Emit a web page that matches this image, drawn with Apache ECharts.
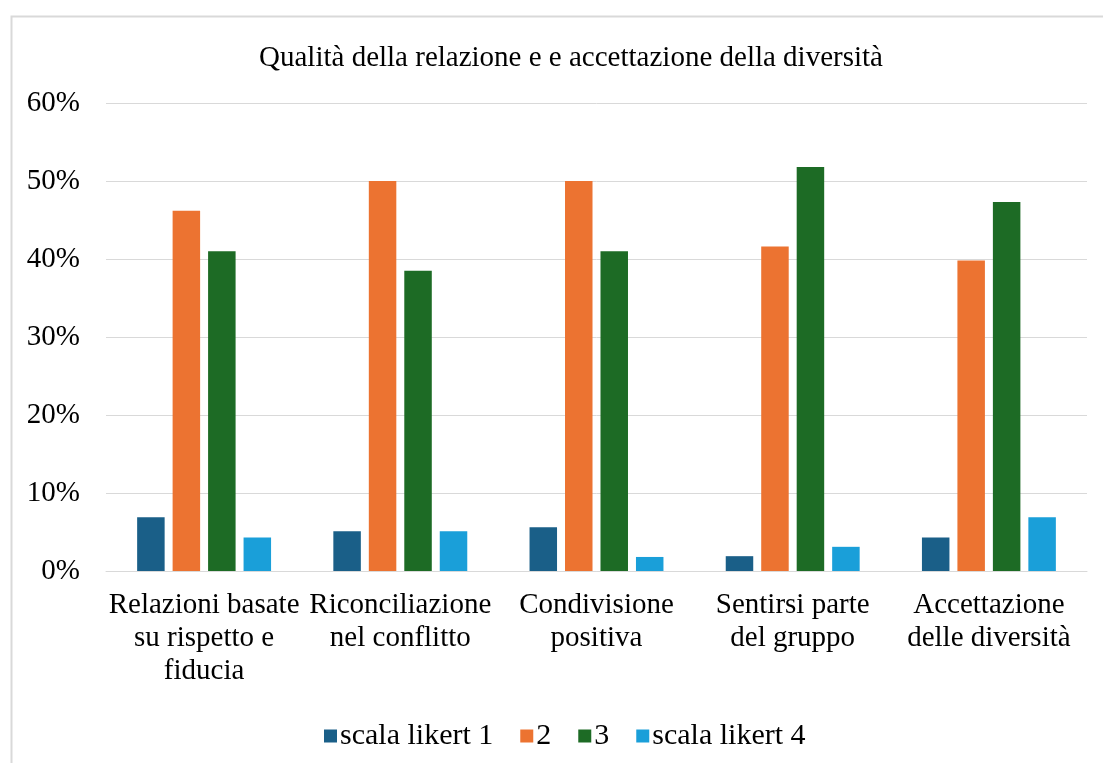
<!DOCTYPE html>
<html>
<head>
<meta charset="utf-8">
<script src="https://cdn.jsdelivr.net/npm/echarts@6/dist/echarts.min.js"></script>
<style>
html,body{margin:0;padding:0;background:#fff;}
#c{width:1103px;height:763px;}
</style>
</head>
<body>
<div id="c"></div>
<script>
const title = "Qualità della relazione e e accettazione della diversità";
const categories = [
  "Relazioni basate\nsu rispetto e\nfiducia",
  "Riconciliazione\nnel conflitto",
  "Condivisione\npositiva",
  "Sentirsi parte\ndel gruppo",
  "Accettazione\ndelle diversità"
];
const seriesNames = ["scala likert 1", "2", "3", "scala likert 4"];
const likert1 = [6.9, 5.1, 5.6, 1.9, 4.3];
const likert2 = [46.2, 50.0, 50.0, 41.6, 39.8];
const likert3 = [41.0, 38.5, 41.0, 51.8, 47.3];
const likert4 = [4.3, 5.1, 1.8, 3.1, 6.9];
const yTicks = [0, 10, 20, 30, 40, 50, 60];
const colors = ["#1a5f88", "#ec7331", "#1d6b25", "#1a9fd9"];

const FONT = "'Liberation Serif', 'Times New Roman', serif";
const chart = echarts.init(document.getElementById('c'), null, {renderer: 'canvas'});
const values = [likert1, likert2, likert3, likert4];
chart.setOption({
  animation: false,
  backgroundColor: '#fff',
  color: colors,
  graphic: [{
    type: 'rect', left: 9, top: 14, z: -1,
    shape: {width: 1200, height: 800},
    style: {fill: 'none', stroke: '#d9d9d9', lineWidth: 2}
  }],
  title: {
    text: title, left: 566, top: 39, textAlign: 'center',
    textStyle: {fontFamily: FONT, fontSize: 29, fontWeight: 'normal', color: '#000'}
  },
  legend: {
    left: 319, top: 716, itemWidth: 13, itemHeight: 13, itemGap: 27,
    icon: 'rect',
    data: seriesNames,
    textStyle: {fontFamily: FONT, fontSize: 30, color: '#000', padding: [0, 0, 0, -2]}
  },
  grid: {left: 106, right: 16, top: 103, bottom: 192, containLabel: false},
  xAxis: {
    type: 'category', data: categories,
    axisLine: {lineStyle: {color: '#d9d9d9', width: 1}},
    axisTick: {show: false},
    axisLabel: {fontFamily: FONT, fontSize: 29, color: '#000', lineHeight: 33, margin: 18, interval: 0}
  },
  yAxis: {
    type: 'value', min: yTicks[0], max: yTicks[yTicks.length - 1], interval: 10,
    axisLine: {show: false}, axisTick: {show: false},
    splitLine: {lineStyle: {color: '#d9d9d9', width: 1}},
    axisLabel: {fontFamily: FONT, fontSize: 29, color: '#000', margin: 26, formatter: v => v + '%'}
  },
  series: seriesNames.map((n, i) => ({
    name: n, type: 'bar', data: values[i], barWidth: 27.5, barGap: '29%'
  }))
});
</script>
</body>
</html>
